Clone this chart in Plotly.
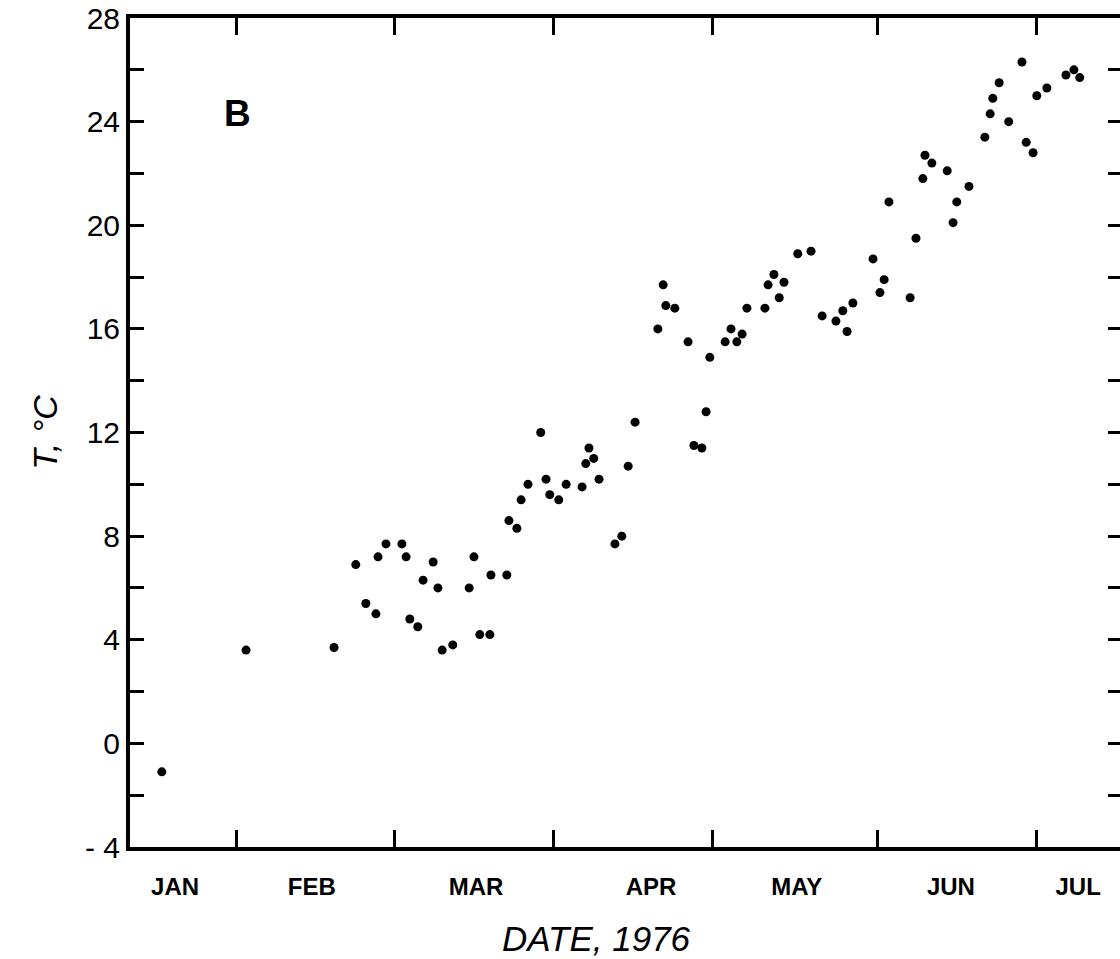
import plotly.graph_objects as go

# Day of year 1976 (day 0 = Jan 1) and temperature (deg C)
days = [6.0, 21.9, 38.5, 42.6, 44.5, 46.4, 46.8, 48.3, 51.3, 52.1,
        52.8, 54.3, 55.3, 57.2, 58.1, 58.9, 60.9, 64.0, 64.9, 66.0,
        67.9, 68.1, 71.1, 71.5, 73.0, 73.8, 75.1, 77.5, 78.5, 79.2,
        80.9, 82.3, 85.3, 86.0, 86.6, 87.5, 88.5, 91.5, 92.8, 94.0,
        95.3, 99.6, 100.6, 101.1, 102.8, 105.3, 106.4, 107.9, 108.7, 109.4,
        112.3, 113.4, 114.5, 115.5, 116.4, 119.8, 120.4, 121.5, 122.5, 123.4,
        126.0, 128.5, 130.6, 133.2, 134.5, 135.3, 136.4, 140.2, 141.5, 142.3,
        143.2, 147.2, 148.3, 149.6, 150.0, 151.3, 154.2, 155.3, 156.0, 158.3,
        161.3, 162.3, 162.8, 164.0, 165.8, 168.3, 169.1, 170.4, 171.1, 173.0,
        176.6, 178.1, 179.2]
temps = [-1.1, 3.6, 3.7, 6.9, 5.4, 5.0, 7.2, 7.7, 7.7, 7.2,
         4.8, 4.5, 6.3, 7.0, 6.0, 3.6, 3.8, 6.0, 7.2, 4.2,
         4.2, 6.5, 6.5, 8.6, 8.3, 9.4, 10.0, 12.0, 10.2, 9.6,
         9.4, 10.0, 9.9, 10.8, 11.4, 11.0, 10.2, 7.7, 8.0, 10.7,
         12.4, 16.0, 17.7, 16.9, 16.8, 15.5, 11.5, 11.4, 12.8, 14.9,
         15.5, 16.0, 15.5, 15.8, 16.8, 16.8, 17.7, 18.1, 17.2, 17.8,
         18.9, 19.0, 16.5, 16.3, 16.7, 15.9, 17.0, 18.7, 17.4, 17.9,
         20.9, 17.2, 19.5, 21.8, 22.7, 22.4, 22.1, 20.1, 20.9, 21.5,
         23.4, 24.3, 24.9, 25.5, 24.0, 26.3, 23.2, 22.8, 25.0, 25.3,
         25.8, 26.0, 25.7]

tick_days = [20, 50, 80, 110, 141, 171]
month_pos = [8.5, 34.3, 65.3, 98.3, 125.8, 154.9, 178.9]
month_labels = ["JAN", "FEB", "MAR", "APR", "MAY", "JUN", "JUL"]
y_ticks = list(range(-4, 29, 2))
y_ticktext = [("- 4" if v == -4 else str(v)) if v % 4 == 0 else "" for v in y_ticks]

XR = [0, 186.8]
YR = [-4, 28]
FONT = "Liberation Sans, Arial, sans-serif"

fig = go.Figure()
fig.add_trace(go.Scatter(
    x=days, y=temps, mode="markers",
    marker=dict(color="black", size=9, line=dict(width=0)),
    showlegend=False, hoverinfo="x+y"))
# invisible trace on secondary axes so they render
fig.add_trace(go.Scatter(x=[None], y=[None], xaxis="x2", yaxis="y2", showlegend=False))

fig.update_layout(
    width=1120, height=959,
    margin=dict(l=130, r=0, t=18, b=112),
    paper_bgcolor="white", plot_bgcolor="white",
    font=dict(family=FONT, color="black"),
    xaxis=dict(
        range=XR, tickvals=tick_days, showticklabels=False,
        ticks="inside", ticklen=17, tickwidth=3, tickcolor="black",
        showline=True, linewidth=3.5, linecolor="black", mirror="ticks",
        showgrid=False, zeroline=False),
    xaxis2=dict(
        range=XR, overlaying="x", anchor="y", side="bottom",
        tickvals=month_pos, ticktext=month_labels,
        ticks="outside", ticklen=18, tickcolor="rgba(0,0,0,0)",
        tickfont=dict(size=24, family=FONT, weight="bold"),
        showline=False, showgrid=False, zeroline=False),
    yaxis=dict(
        range=YR, tickvals=y_ticks, ticktext=y_ticktext,
        ticks="inside", ticklen=14, tickwidth=3, tickcolor="black",
        tickfont=dict(size=30, family=FONT),
        showline=True, linewidth=4, linecolor="black", mirror=False,
        showgrid=False, zeroline=False,
        title=dict(text="<i>T, °C</i>", font=dict(size=34, family=FONT),
                   standoff=18)),
    yaxis2=dict(
        range=YR, overlaying="y", anchor="x", side="right",
        tickvals=y_ticks, showticklabels=False,
        ticks="inside", ticklen=12, tickwidth=3, tickcolor="black",
        showline=False, showgrid=False, zeroline=False),
    annotations=[
        dict(x=20.2, y=24.3, xref="x", yref="y", text="<b>B</b>",
             showarrow=False, font=dict(size=37, family=FONT)),
        dict(x=(596 - 130) / (1120 - 130), y=(847 - 938) / (847 - 18),
             xref="paper", yref="paper", xanchor="center", yanchor="middle",
             text="<i>DATE, 1976</i>",
             showarrow=False, font=dict(size=35, family=FONT)),
    ],
)

fig.write_html("out.html")
